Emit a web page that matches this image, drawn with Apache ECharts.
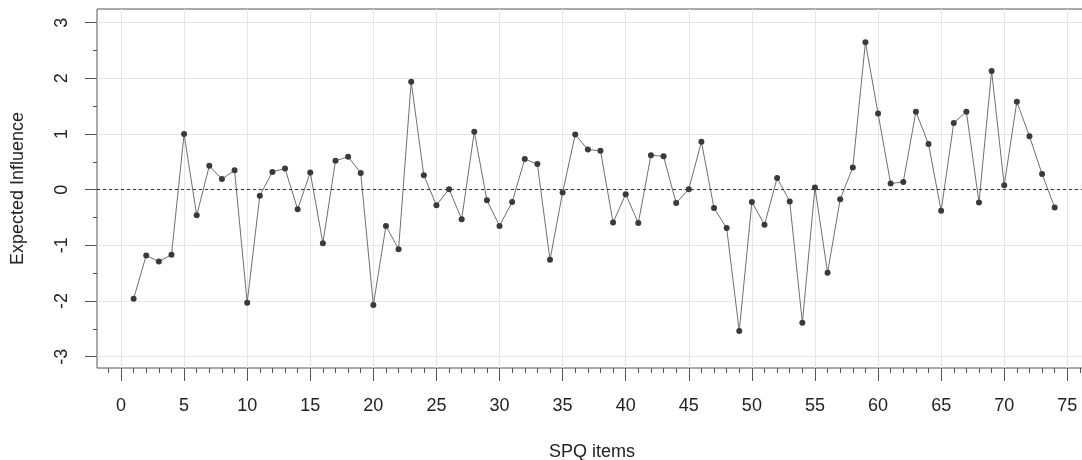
<!DOCTYPE html>
<html>
<head>
<meta charset="utf-8">
<script src="https://cdn.jsdelivr.net/npm/echarts@6/dist/echarts.min.js"></script>
<style>
html,body{margin:0;padding:0;background:#fff;}
#chart{width:1082px;height:460px;}
</style>
</head>
<body>
<div id="chart"></div>
<script>
// SPQ item numbers
var items = [1,2,3,4,5,6,7,8,9,10,11,12,13,14,15,16,17,18,19,20,21,22,23,24,25,26,27,28,29,30,31,32,33,34,35,36,37,38,39,40,41,42,43,44,45,46,47,48,49,50,51,52,53,54,55,56,57,58,59,60,61,62,63,64,65,66,67,68,69,70,71,72,73,74];
// Expected Influence values
var influence = [-1.96,-1.18,-1.29,-1.17,1.00,-0.46,0.43,0.19,0.35,-2.03,
  -0.11,0.32,0.38,-0.35,0.31,-0.96,0.52,0.59,0.30,-2.07,
  -0.65,-1.07,1.94,0.26,-0.28,0.01,-0.53,1.04,-0.19,-0.65,
  -0.22,0.55,0.46,-1.26,-0.05,0.99,0.72,0.70,-0.59,-0.08,
  -0.60,0.62,0.60,-0.24,0.01,0.86,-0.33,-0.69,-2.54,-0.22,
  -0.63,0.21,-0.21,-2.39,0.04,-1.49,-0.17,0.40,2.65,1.37,
  0.11,0.14,1.40,0.82,-0.38,1.20,1.40,-0.23,2.13,0.08,
  1.58,0.96,0.28,-0.32];
// tick labels / tick positions
var xTickLabels = [0,5,10,15,20,25,30,35,40,45,50,55,60,65,70,75];
var xMinorTicks = [-1,0,1,2,3,4,5,6,7,8,9,10,11,12,13,14,15,16,17,18,19,20,21,22,23,24,25,26,27,28,29,30,31,32,33,34,35,36,37,38,39,40,41,42,43,44,45,46,47,48,49,50,51,52,53,54,55,56,57,58,59,60,61,62,63,64,65,66,67,68,69,70,71,72,73,74,75,76];
var yTickLabels = [-3,-2,-1,0,1,2,3];
var yMinorTicks = [-2.5,-1.5,-0.5,0.5,1.5,2.5];

var X_MIN = -1.902, X_MAX = 76.56;
var Y_MIN = -3.203, Y_MAX = 3.246;

var font = 'Liberation Sans, Arial, Helvetica, sans-serif';
var textColor = '#222';
var axisColor = '#555';

var chart = echarts.init(document.getElementById('chart'), null, {renderer: 'canvas'});
chart.setOption({
  animation: false,
  backgroundColor: '#fff',
  grid: {
    left: 97, top: 9, right: -5, bottom: 92,
    show: true, borderColor: axisColor, borderWidth: 1,
    outerBoundsMode: 'none', containLabel: false
  },
  xAxis: [{
    type: 'value', position: 'bottom', min: X_MIN, max: X_MAX, splitNumber: 16,
    name: 'SPQ items', nameLocation: 'middle', nameGap: 75,
    nameTextStyle: {fontFamily: font, fontSize: 18, color: textColor},
    axisLine: {show: false, onZero: false},
    axisTick: {show: true, length: 13, customValues: xTickLabels, lineStyle: {color: axisColor}},
    axisLabel: {show: true, customValues: xTickLabels, margin: 29, fontFamily: font, fontSize: 18, color: textColor},
    splitLine: {show: true, lineStyle: {color: '#e6e6e6', width: 1}}
  }, {
    type: 'value', position: 'bottom', min: X_MIN, max: X_MAX,
    axisLine: {show: false, onZero: false},
    axisTick: {show: true, length: 5, customValues: xMinorTicks, lineStyle: {color: axisColor}},
    axisLabel: {show: false},
    splitLine: {show: false}
  }],
  yAxis: [{
    type: 'value', position: 'left', min: Y_MIN, max: Y_MAX,
    name: 'Expected Influence', nameLocation: 'middle', nameGap: 70,
    nameTextStyle: {fontFamily: font, fontSize: 18, color: textColor},
    axisLine: {show: false, onZero: false},
    axisTick: {show: true, length: 12, customValues: yTickLabels, lineStyle: {color: axisColor}},
    axisLabel: {show: true, customValues: yTickLabels, rotate: 90, margin: 26, fontFamily: font, fontSize: 18, color: textColor},
    splitLine: {show: true, lineStyle: {color: '#e6e6e6', width: 1}}
  }, {
    type: 'value', position: 'left', min: Y_MIN, max: Y_MAX,
    axisLine: {show: false, onZero: false},
    axisTick: {show: true, length: 4, customValues: yMinorTicks, lineStyle: {color: axisColor}},
    axisLabel: {show: false},
    splitLine: {show: false}
  }],
  series: [{
    type: 'line',
    xAxisIndex: 0, yAxisIndex: 0,
    data: items.map(function (it, i) { return [it, influence[i]]; }),
    symbol: 'circle', symbolSize: 6,
    itemStyle: {color: '#3a3a3a'},
    lineStyle: {color: '#707070', width: 1},
    markLine: {
      silent: true, symbol: ['none', 'none'],
      label: {show: false},
      lineStyle: {color: '#333', width: 1, type: [3, 3]},
      data: [{yAxis: 0}]
    }
  }]
});
</script>
</body>
</html>
